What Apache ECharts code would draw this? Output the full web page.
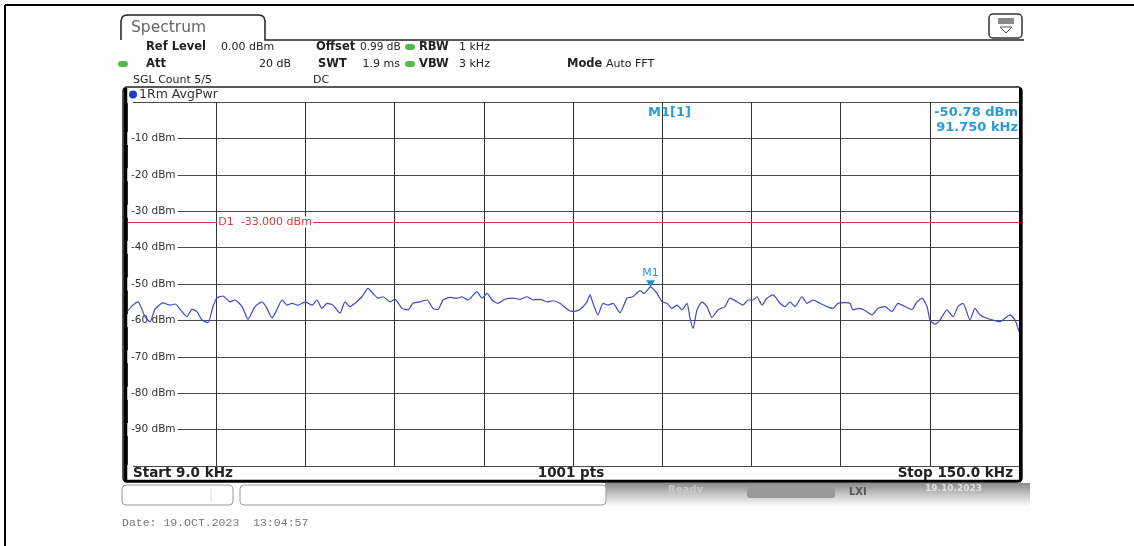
<!DOCTYPE html>
<html>
<head>
<meta charset="utf-8">
<script src="https://cdn.jsdelivr.net/npm/echarts@6/dist/echarts.min.js"></script>
<style>
html,body{margin:0;padding:0;background:#fff;}
#chart{width:1134px;height:546px;}
</style>
</head>
<body>
<div id="chart"></div>
<script>
// ---- data ----
const startKHz = 9.0;
const stopKHz = 150.0;
const sweepPoints = 1001;
const yTickValues = [-10, -20, -30, -40, -50, -60, -70, -80, -90];
const displayLine = [-33.0];
const markerFreqKHz = [91.75];
const markerLevelDBm = [-50.78];

const freqKHz = [
  9.0, 9.95, 10.74, 11.85, 12.64, 13.43, 14.69, 15.80, 16.59, 17.69,
  18.48, 19.27, 20.06, 20.86, 21.80, 22.59, 23.23, 24.17, 25.28, 26.07,
  27.18, 28.13, 29.23, 30.34, 31.13, 31.92, 32.71, 33.50, 34.29, 35.08,
  36.03, 37.14, 38.24, 39.03, 39.82, 40.61, 41.56, 42.67, 43.46, 44.25,
  45.04, 46.15, 47.09, 47.89, 48.68, 49.47, 50.57, 51.36, 52.47, 53.42,
  54.21, 55.31, 56.42, 57.37, 58.16, 58.95, 60.06, 61.16, 61.95, 62.90,
  64.32, 65.12, 65.91, 66.70, 67.64, 68.75, 70.02, 71.12, 72.23, 73.18,
  74.28, 75.39, 76.34, 77.44, 78.71, 79.50, 80.61, 81.71, 82.19, 82.66,
  83.45, 84.24, 85.03, 85.82, 86.93, 88.04, 88.98, 90.09, 90.72, 91.75,
  92.78, 93.57, 94.36, 95.15, 95.94, 96.73, 97.52, 97.99, 98.47, 99.10,
  99.89, 100.68, 101.47, 102.42, 103.53, 104.32, 105.42, 106.37, 107.16, 107.95,
  108.58, 109.37, 110.16, 111.11, 112.22, 113.01, 113.80, 114.59, 115.70, 116.49,
  117.44, 118.54, 119.65, 120.60, 121.39, 122.49, 123.28, 123.76, 124.86, 125.97,
  126.76, 127.71, 128.82, 129.92, 130.87, 131.98, 133.08, 133.88, 134.67, 135.46,
  135.93, 136.72, 137.51, 138.62, 139.57, 140.36, 141.15, 142.25, 143.04, 143.83,
  144.94, 145.89, 146.99, 147.78, 148.58, 149.37, 150.0
];
const levelDBm = [
  -57.6, -55.8, -54.9, -59.0, -60.4, -56.9, -55.2, -55.8, -55.5, -57.6,
  -59.0, -56.9, -57.6, -59.9, -60.6, -56.2, -53.8, -53.3, -54.9, -54.4,
  -56.2, -59.7, -56.2, -54.9, -56.7, -59.3, -57.0, -54.4, -55.8, -55.3,
  -55.8, -54.9, -55.8, -54.4, -56.7, -55.3, -55.8, -58.0, -54.9, -56.2,
  -55.3, -53.5, -51.2, -52.6, -53.9, -53.5, -54.9, -54.2, -56.7, -57.1,
  -55.3, -54.9, -54.4, -56.7, -57.0, -54.4, -53.7, -53.9, -53.5, -54.4,
  -52.1, -53.9, -52.6, -54.4, -55.3, -54.2, -53.9, -54.2, -53.5, -54.4,
  -54.2, -54.9, -54.6, -55.3, -57.1, -57.6, -57.0, -54.9, -53.0, -55.3,
  -58.5, -55.3, -55.8, -55.3, -57.9, -53.9, -53.5, -51.8, -52.6, -50.78,
  -52.6, -54.9, -55.3, -56.7, -55.8, -57.1, -55.3, -59.4, -62.2, -57.1,
  -54.9, -56.2, -59.2, -57.1, -56.2, -53.9, -54.9, -55.8, -54.4, -54.4,
  -53.5, -55.8, -53.9, -53.0, -55.3, -56.2, -54.9, -56.2, -53.5, -55.3,
  -54.4, -55.3, -56.2, -56.7, -55.3, -55.1, -55.3, -57.1, -56.7, -57.6,
  -58.5, -56.7, -56.2, -57.6, -55.3, -56.2, -57.0, -54.9, -53.9, -56.2,
  -59.9, -61.0, -59.9, -57.1, -59.0, -56.2, -55.3, -59.9, -56.7, -58.5,
  -59.4, -59.9, -60.4, -59.4, -58.5, -59.9, -63.1
];

// ---- chart ----
const FONT = 'DejaVu Sans';
const chart = echarts.init(document.getElementById('chart'), null, {renderer: 'canvas'});

function txt(id, x, y, text, opts) {
  opts = opts || {};
  return {
    type: 'text', id: id, x: x, y: y, z: opts.z || 50, silent: true,
    style: {
      text: text,
      font: (opts.bold ? 'bold ' : '') + (opts.size || 11) + 'px ' + (opts.family || FONT),
      fill: opts.color || '#222',
      textAlign: opts.align || 'left',
      textVerticalAlign: 'middle'
    }
  };
}
function pill(id, cx, cy) {
  return {type: 'rect', id: id, z: 60, silent: true, shape: {x: cx - 5, y: cy - 3, width: 10, height: 6, r: 3}, style: {fill: '#55b84f'}};
}

const staticGraphics = [
  // outer image frame
  {type: 'line', id: 'frL', z: 60, silent: true, shape: {x1: 5, y1: 5, x2: 5, y2: 546}, style: {stroke: '#000', lineWidth: 2}},
  {type: 'line', id: 'frT', z: 60, silent: true, shape: {x1: 5, y1: 5, x2: 1134, y2: 5}, style: {stroke: '#000', lineWidth: 2}},
  // tab
  {type: 'polyline', id: 'tab', z: 60, silent: true,
   shape: {points: [[121, 40], [121, 21], [122, 17.5], [124, 15.8], [127, 15], [259, 15], [262, 15.8], [264, 17.5], [265, 21], [265, 40], [1024, 40]]},
   style: {stroke: '#222', lineWidth: 1.5, fill: null}},
  txt('spec', 131, 28, 'Spectrum', {size: 15.5, color: '#666'}),
  // icon
  {type: 'rect', id: 'ic1', z: 60, silent: true, shape: {x: 989, y: 14, width: 33, height: 24, r: 4}, style: {stroke: '#333', lineWidth: 1.5, fill: '#fff'}},
  {type: 'rect', id: 'ic2', z: 61, silent: true, shape: {x: 998, y: 18, width: 16, height: 6}, style: {fill: '#8a8a8a'}},
  {type: 'polygon', id: 'ic3', z: 61, silent: true, shape: {points: [[1000, 27], [1012, 27], [1006, 33]]}, style: {stroke: '#555', fill: null, lineWidth: 1}},
  // header
  txt('h1', 146, 47, 'Ref Level', {bold: true, size: 11.5}),
  txt('h2', 221, 47, '0.00 dBm', {size: 11}),
  txt('h3', 316, 47, 'Offset', {bold: true, size: 11.5}),
  txt('h4', 360, 47, '0.99 dB', {size: 10.5}),
  pill('g1', 410, 47),
  txt('h5', 419, 47, 'RBW', {bold: true, size: 11.5}),
  txt('h6', 459, 47, '1 kHz', {size: 11}),
  pill('g2', 123, 64),
  txt('h7', 146, 64, 'Att', {bold: true, size: 11.5}),
  txt('h8', 291, 64, '20 dB', {size: 11, align: 'right'}),
  txt('h9', 318, 64, 'SWT', {bold: true, size: 11.5}),
  txt('h10', 400, 64, '1.9 ms', {size: 11, align: 'right'}),
  pill('g3', 410, 64),
  txt('h11', 419, 64, 'VBW', {bold: true, size: 11.5}),
  txt('h12', 459, 64, '3 kHz', {size: 11}),
  txt('h13', 567, 64, 'Mode', {bold: true, size: 11.5}),
  txt('h14', 606, 64, 'Auto FFT', {size: 11}),
  txt('h15', 133, 80, 'SGL Count 5/5', {size: 11}),
  txt('h16', 313, 80, 'DC', {size: 11}),
  // window frame
  {type: 'rect', id: 'win', z: 60, silent: true, shape: {x: 123, y: 87, width: 899, height: 395, r: 4}, style: {stroke: '#222', lineWidth: 1.5, fill: null}},
  {type: 'line', id: 'winL', z: 61, silent: true, shape: {x1: 125.5, y1: 88, x2: 125.5, y2: 481}, style: {stroke: '#000', lineWidth: 3.5}},
  {type: 'line', id: 'winR', z: 61, silent: true, shape: {x1: 1020.5, y1: 88, x2: 1020.5, y2: 481}, style: {stroke: '#000', lineWidth: 3}},
  {type: 'line', id: 'winB', z: 61, silent: true, shape: {x1: 124, y1: 481, x2: 1021, y2: 481}, style: {stroke: '#000', lineWidth: 2.5}},
  {type: 'circle', id: 'trdot', z: 60, silent: true, shape: {cx: 133, cy: 94.5, r: 4}, style: {fill: '#1a3fd0'}},
  txt('trlab', 139, 94.5, '1Rm AvgPwr', {size: 12.5, color: '#333'}),
  // bottom strip
  txt('b1', 133, 473.5, 'Start ' + startKHz.toFixed(1) + ' kHz', {bold: true, size: 13.5}),
  txt('b2', 571, 473.5, sweepPoints + ' pts', {bold: true, size: 13.5, align: 'center'}),
  txt('b3', 1013, 473.5, 'Stop ' + stopKHz.toFixed(1) + ' kHz', {bold: true, size: 13.5, align: 'right'}),
  // status bar
  {type: 'rect', id: 's1', z: 60, silent: true, shape: {x: 122, y: 485, width: 111, height: 20, r: 4}, style: {stroke: '#999', lineWidth: 1, fill: '#fff'}},
  {type: 'line', id: 's1d', z: 61, silent: true, shape: {x1: 211, y1: 488, x2: 211, y2: 502}, style: {stroke: '#ddd', lineWidth: 1}},
  {type: 'rect', id: 's3', z: 60, silent: true, shape: {x: 605, y: 483, width: 425, height: 24},
   style: {fill: {type: 'linear', x: 0, y: 0, x2: 0, y2: 1, colorStops: [{offset: 0, color: '#8a8a8a'}, {offset: 0.55, color: '#d0d0d0'}, {offset: 1, color: '#ffffff'}]}}},
  {type: 'rect', id: 's2', z: 61, silent: true, shape: {x: 240, y: 485, width: 366, height: 20, r: 4}, style: {stroke: '#999', lineWidth: 1, fill: '#fff'}},
  txt('rdy', 668, 490, 'Ready', {bold: true, size: 10, color: '#c8c8c8', z: 62}),
  {type: 'rect', id: 'pb', z: 62, silent: true, shape: {x: 747, y: 487, width: 88, height: 11, r: 3}, style: {fill: '#9a9a9a'}},
  txt('lxi', 849, 492, 'LXI', {bold: true, size: 10, color: '#555', z: 62}),
  txt('dt', 925, 489, '19.10.2023', {bold: true, size: 9, color: '#e0e0e0', z: 62}),
  // date
  txt('date', 122, 523, 'Date: 19.OCT.2023  13:04:57', {size: 11.5, color: '#777', family: 'Liberation Mono'}),
  // marker readout
  txt('m1h', 648, 113, 'M1[1]', {bold: true, size: 13, color: '#2a9ad8'}),
  txt('m1l', 1018, 113, markerLevelDBm[0].toFixed(2) + ' dBm', {bold: true, size: 13, color: '#2a9ad8', align: 'right'}),
  txt('m1f', 1018, 128, markerFreqKHz[0].toFixed(3) + ' kHz', {bold: true, size: 13, color: '#2a9ad8', align: 'right'})
];

const option = {
  animation: false,
  backgroundColor: '#fff',
  grid: {left: 127, right: 115, top: 102, bottom: 80, containLabel: false},
  xAxis: [
    {type: 'value', min: startKHz, max: stopKHz, show: false},
    {type: 'value', min: 0, max: 10, interval: 1, position: 'bottom',
     axisLine: {show: false}, axisTick: {show: false}, axisLabel: {show: false},
     splitLine: {show: true, lineStyle: {color: '#333', width: 1}}}
  ],
  yAxis: {
    type: 'value', min: -100, max: 0, interval: 10,
    axisLine: {show: false}, axisTick: {show: false},
    axisLabel: {
      inside: true, margin: 0, color: '#333', fontSize: 10.5, fontFamily: FONT,
      backgroundColor: '#fff', padding: [1, 2, 1, 4],
      formatter: function (v) { return yTickValues.indexOf(v) >= 0 ? v + ' dBm' : ''; }
    },
    splitLine: {show: true, lineStyle: {color: '#4a4a4a', width: 1}}
  },
  series: [{
    type: 'line',
    xAxisIndex: 0,
    data: freqKHz.map(function (f, i) { return [f, levelDBm[i]]; }),
    showSymbol: false,
    smooth: 0.2,
    lineStyle: {color: '#3f48c4', width: 1.2},
    z: 5,
    markLine: {
      silent: true, symbol: 'none', animation: false,
      lineStyle: {color: '#d43a3a', width: 1, type: 'solid'},
      label: {show: false},
      data: displayLine.map(function (v) { return {yAxis: v}; })
    },
    markPoint: {
      silent: true, animation: false,
      symbol: 'triangle', symbolSize: [9, 7], symbolRotate: 180, symbolOffset: [0, -3],
      itemStyle: {color: '#1f8fd5'},
      label: {show: true, position: 'top', distance: 2, formatter: 'M1', color: '#2a9ad8', fontSize: 11, fontFamily: FONT},
      data: markerFreqKHz.map(function (f, i) { return {coord: [f, markerLevelDBm[i]]}; })
    }
  }],
  graphic: staticGraphics
};

chart.setOption(option);

// D1 label: placed through the library's scales (first vertical division, display line level)
const p = chart.convertToPixel({xAxisIndex: 1, yAxisIndex: 0}, [1, displayLine[0]]);
const d1 = {
  type: 'text', id: 'd1', x: p[0] + 1, y: p[1], z: 40, silent: true,
  style: {
    text: 'D1  ' + displayLine[0].toFixed(3) + ' dBm',
    font: '11px ' + FONT, fill: '#d43a3a', textAlign: 'left', textVerticalAlign: 'middle',
    backgroundColor: '#fff', padding: [0, 1, 0, 1]
  }
};
chart.setOption({graphic: staticGraphics.concat([d1])});
</script>
</body>
</html>
